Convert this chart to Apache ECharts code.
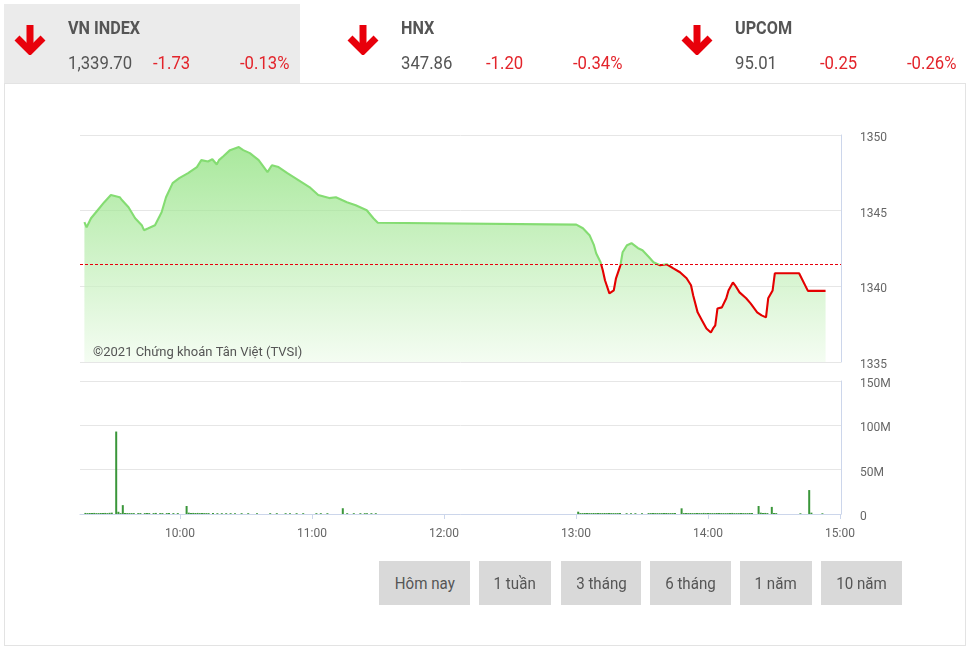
<!DOCTYPE html>
<html><head><meta charset="utf-8">
<script src="https://cdn.jsdelivr.net/npm/echarts@6/dist/echarts.min.js"></script>
<style>
html,body{margin:0;padding:0}
body{width:971px;height:650px;background:#fff;font-family:Roboto,"Noto Sans",sans-serif;overflow:hidden;position:relative}
#panel{position:absolute;left:4px;top:83px;width:962px;height:563px;border:1px solid #e3e3e3;box-sizing:border-box;z-index:0}
#hdrbox{position:absolute;left:4px;top:4px;width:296px;height:79px;background:#ebebeb;z-index:1}
#chart{position:absolute;left:0;top:0;width:971px;height:650px;z-index:2}
.t{position:absolute;white-space:nowrap;z-index:3}
.t span{display:inline-block;transform-origin:left center}
.nm{font-size:18px;line-height:18px;font-weight:700;color:#555}
.nm span{transform:scaleX(0.9)}
.vl{font-size:19px;line-height:19px;color:#555}
.vl span{transform:scaleX(0.88)}
.rd{color:#e3242b}
.arrow{position:absolute;z-index:3}
.btn{position:absolute;top:561px;height:44px;background:#d9d9d9;color:#555;font-size:17px;line-height:44px;text-align:center;z-index:3}
.btn span{display:inline-block;transform:scaleX(0.89);transform-origin:center}
</style>
</head><body>
<div id="panel"></div>
<div id="hdrbox"></div>
<div id="chart"></div>
<script>
// ---------- header data ----------
const idxNames = ['VN INDEX', 'HNX', 'UPCOM'];
const idxValues = ['1,339.70', '347.86', '95.01'];
const idxChanges = ['-1.73', '-1.20', '-0.25'];
const idxPcts = ['-0.13%', '-0.34%', '-0.26%'];
const rangeButtons = ['Hôm nay', '1 tuần', '3 tháng', '6 tháng', '1 năm', '10 năm'];

// ---------- chart data ----------
const refPrice = 1341.43;
const priceTimes = ['09:17','09:18','09:20','09:23','09:26','09:29','09:33','09:34','09:37','09:40','09:43','09:44','09:46','09:49','09:52','09:54','09:57','10:00','10:04','10:08','10:10','10:13','10:15','10:17','10:18','10:20','10:23','10:27','10:29','10:32','10:36','10:40','10:42','10:45','10:49','10:54','10:59','11:03','11:08','11:11','11:16','11:20','11:25','11:28','11:30',
  '13:00','13:03','13:06','13:08','13:09','13:11','13:12','13:13','13:15','13:17','13:18','13:20','13:21','13:23','13:25','13:28','13:30','13:33','13:35','13:38','13:41','13:44','13:47','13:50','13:52','13:53','13:55','13:57','13:59','14:01','14:02','14:03','14:04','14:06','14:08','14:09','14:11','14:12','14:14','14:17','14:19','14:22','14:24','14:26','14:27','14:29','14:30','14:41','14:45','14:53'];
const priceValues = [1344.24,1343.90,1344.50,1345.03,1345.56,1346.03,1345.89,1345.70,1345.23,1344.50,1344.04,1343.71,1343.84,1344.04,1344.90,1345.89,1346.82,1347.15,1347.48,1347.88,1348.34,1348.25,1348.40,1348.05,1348.34,1348.60,1349.00,1349.20,1349.00,1348.80,1348.34,1347.55,1348.00,1347.88,1347.48,1347.02,1346.56,1346.03,1345.83,1345.89,1345.56,1345.36,1345.03,1344.50,1344.20,
  1344.08,1343.84,1343.38,1342.72,1342.19,1341.59,1341.06,1340.40,1339.54,1339.74,1340.53,1341.39,1342.25,1342.72,1342.85,1342.52,1342.38,1341.92,1341.59,1341.39,1341.46,1341.19,1340.93,1340.53,1340.07,1339.40,1338.28,1337.75,1337.22,1336.95,1337.22,1337.42,1338.54,1338.61,1339.21,1339.73,1340.26,1340.07,1339.60,1339.21,1338.87,1338.28,1338.08,1337.95,1339.21,1339.73,1340.86,1340.86,1339.70,1339.70];

const volTimes = ['09:17','09:18','09:19','09:20','09:21','09:22','09:23','09:24','09:25','09:26','09:27','09:28','09:29','09:31','09:32','09:33','09:34','09:35','09:36','09:37','09:38','09:39','09:41','09:42','09:44','09:45','09:46','09:48','09:49','09:51','09:52','09:54','09:55','09:57','09:59',
  '10:03','10:04','10:05','10:06','10:07','10:08','10:09','10:10','10:11','10:12','10:13','10:15','10:17','10:19','10:21','10:23','10:25','10:28','10:31','10:35','10:41','10:44','10:48','10:50','10:53','10:56','11:02','11:04','11:07','11:14','11:16','11:19','11:22','11:24','11:25','11:27','11:29',
  '13:01','13:02','13:03','13:04','13:05','13:06','13:07','13:08','13:09','13:10','13:11','13:12','13:13','13:14','13:15','13:16','13:17','13:18','13:19','13:20','13:23','13:25','13:27','13:30',
  '13:33','13:34','13:35','13:36','13:37','13:38','13:39','13:40','13:41','13:42','13:43','13:44','13:45','13:48',
  '13:49','13:50','13:51','13:52','13:53','13:54','13:55','13:56','13:57','13:58','13:59','14:00','14:01','14:02','14:03','14:04','14:05','14:06','14:07','14:08','14:09','14:10','14:11','14:12','14:13','14:14','14:15','14:16','14:17','14:18','14:19','14:20',
  '14:23','14:24','14:25','14:26','14:27','14:29','14:30','14:31','14:42','14:46','14:47','14:52'];
const volValues = [1.2,1.0,1.1,1.0,1.2,1.0,1.0,1.1,1.0,1.2,1.0,1.3,1.5,93,2.5,1.0,10,1.2,1.0,1.0,1.0,1.0,1.0,1.0,1.0,1.0,1.0,1.0,1.2,1.0,1.0,1.0,1.0,1.0,1.0,
  9,1.5,1.2,1.2,1.1,1.2,1.0,1.1,1.0,1.0,1.0,1.0,0.9,0.9,0.9,0.9,0.9,0.9,0.9,0.9,0.9,0.9,0.9,0.9,0.9,0.9,0.9,0.9,0.9,6.5,0.9,0.9,0.9,0.9,0.9,0.9,0.9,
  2.6,1.0,1.0,1.1,1.0,1.0,1.0,1.1,1.0,1.0,1.0,1.0,1.1,1.0,1.0,1.0,1.0,1.0,1.0,1.0,0.9,0.9,0.9,0.9,
  1.0,1.0,1.1,1.0,1.0,1.0,1.0,1.0,1.1,1.0,1.0,1.0,1.0,6.4,
  1.0,1.0,1.0,1.1,1.0,1.0,1.0,1.0,1.0,1.2,1.0,1.0,1.0,1.0,1.0,1.1,1.0,1.0,1.0,1.0,1.0,1.0,1.2,1.0,1.0,1.0,1.0,1.0,1.0,1.0,1.1,1.0,
  9,1.5,1.2,1.2,1.0,8,1.2,1.0,0.8,27,1.5,0.8];

const axisMin = '09:15', axisMax = '15:00';
const volTicks = [0, 50, 100, 150];

// ---------- header / buttons (HTML text) ----------
const blockLeft = [13, 346, 680];
idxNames.forEach((n, i) => {
  const x = blockLeft[i];
  document.body.insertAdjacentHTML('beforeend',
    `<svg class="arrow" style="left:${x}px;top:23px" width="36" height="32" viewBox="0 0 36 32">
       <line x1="17" y1="2" x2="17" y2="27" stroke="#e8000b" stroke-width="7"/>
       <polyline points="4,15 17,28 30,15" fill="none" stroke="#e8000b" stroke-width="7" stroke-linejoin="miter"/>
     </svg>` +
    `<div class="t nm" style="left:${x + 55}px;top:19px"><span>${n}</span></div>` +
    `<div class="t vl" style="left:${x + 55}px;top:53px"><span>${idxValues[i]}</span></div>` +
    `<div class="t vl rd" style="left:${x + 140}px;top:53px"><span>${idxChanges[i]}</span></div>` +
    `<div class="t vl rd" style="left:${x + 227}px;top:53px"><span>${idxPcts[i]}</span></div>`);
});
const btnBox = [[379, 91], [479, 72], [561, 80], [650, 81], [740, 72], [821, 81]];
rangeButtons.forEach((b, i) => {
  document.body.insertAdjacentHTML('beforeend',
    `<div class="btn" style="left:${btnBox[i][0]}px;width:${btnBox[i][1]}px"><span>${b}</span></div>`);
});

// ---------- chart ----------
const day = '2021-06-01T';
const T = s => new Date(day + s + ':00').getTime();
const priceData = priceTimes.map((t, i) => [T(t), priceValues[i]]);
const volData = volTimes.map((t, i) => [T(t), volValues[i]]);

const chart = echarts.init(document.getElementById('chart'), null, {renderer: 'canvas'});
const gridLineColor = '#e6e6e6', axisColor = '#ccd6eb', labelColor = '#666';
chart.setOption({
  animation: false,
  textStyle: {fontFamily: 'Roboto'},
  grid: [
    {left: 80, right: 130, top: 135, height: 227},
    {left: 80, right: 130, top: 381, height: 133}
  ],
  xAxis: [
    {gridIndex: 0, type: 'time', min: T(axisMin), max: T(axisMax), show: false, splitLine: {show: false}},
    {gridIndex: 1, type: 'time', min: T(axisMin), max: T(axisMax),
      minInterval: 3600000, maxInterval: 3600000,
      axisLine: {show: true, lineStyle: {color: axisColor}},
      axisTick: {show: true, length: 5, lineStyle: {color: axisColor}},
      axisLabel: {color: labelColor, fontSize: 12, margin: 14, formatter: '{HH}:{mm}', showMinLabel: false, hideOverlap: false},
      splitLine: {show: false}}
  ],
  yAxis: [
    {gridIndex: 0, type: 'value', position: 'right', min: 1335, max: 1350, interval: 5,
      axisLine: {show: true, lineStyle: {color: axisColor}}, axisTick: {show: false},
      axisLabel: {color: labelColor, fontSize: 12, margin: 19, verticalAlign: 'top', lineHeight: 6, formatter: v => String(v)},
      splitLine: {show: true, lineStyle: {color: gridLineColor}}},
    {gridIndex: 1, type: 'value', position: 'right', min: volTicks[0], max: volTicks[3], interval: 50,
      axisLine: {show: true, lineStyle: {color: axisColor}}, axisTick: {show: false},
      axisLabel: {color: labelColor, fontSize: 12, margin: 19, verticalAlign: 'top', lineHeight: 6, formatter: v => v === 0 ? '0' : v + 'M'},
      splitLine: {show: true, lineStyle: {color: gridLineColor}}}
  ],
  visualMap: {
    type: 'piecewise', show: false, seriesIndex: 0, dimension: 1,
    pieces: [{gte: refPrice, lte: 1400, color: '#84dc72'}, {gte: 1300, lt: refPrice, color: '#e40000'}],
    outOfRange: {color: '#84dc72'}
  },
  graphic: [{
    type: 'text', left: 93, top: 346, z: 100,
    style: {text: '©2021 Chứng khoán Tân Việt (TVSI)', fill: '#555', font: '13px Roboto'}
  }],
  series: [
    {type: 'line', xAxisIndex: 0, yAxisIndex: 0, data: priceData, symbol: 'none', showSymbol: false,
      lineStyle: {width: 2.1},
      areaStyle: {origin: 'start', color: new echarts.graphic.LinearGradient(0, 0, 0, 1, [
        {offset: 0, color: '#84de72'}, {offset: 1, color: '#effbec'}])},
      markLine: {silent: true, symbol: ['none', 'none'], label: {show: false},
        lineStyle: {color: '#e8000b', type: [3, 2], width: 1},
        data: [{yAxis: refPrice}]}
    },
    {type: 'bar', xAxisIndex: 1, yAxisIndex: 1, data: volData, barWidth: 2,
      itemStyle: {color: '#3a963a'}}
  ]
});
</script>
</body></html>
